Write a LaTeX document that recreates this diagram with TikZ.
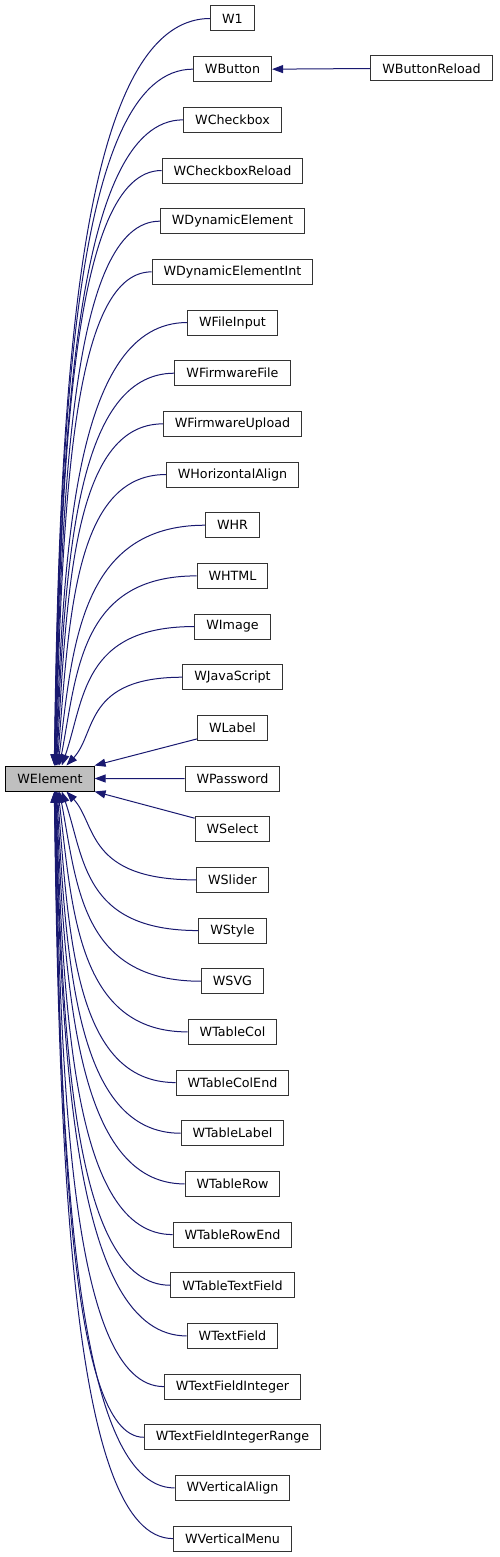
\documentclass[tikz,border=0pt]{standalone}
\usepackage{fontspec}
\setmainfont{DejaVu Sans}
\usetikzlibrary{arrows.meta,calc}
\definecolor{edgeblue}{RGB}{25,25,112}
\definecolor{basegray}{RGB}{191,191,191}

\begin{document}
\begin{tikzpicture}[x=1pt,y=1pt,font=\fontsize{12.7}{14}\selectfont,
  cls/.style={draw=black!80,line width=1pt,minimum height=25pt,inner xsep=11.5pt,inner ysep=0pt},
  base/.style={cls,draw=black,fill=basegray},
  inherit/.style={-{Triangle[length=11pt,width=8pt]},edgeblue,line width=1pt},
]
\useasboundingbox (0,0) rectangle (499,-1557);
\node[base] (welem) at (50,-778.5) {WElement};
% derived classes, one column
\foreach \name [count=\i] in {W1,WButton,WCheckbox,WCheckboxReload,WDynamicElement,
  WDynamicElementInt,WFileInput,WFirmwareFile,WFirmwareUpload,WHorizontalAlign,WHR,WHTML,
  WImage,WJavaScript,WLabel,WPassword,WSelect,WSlider,WStyle,WSVG,WTableCol,WTableColEnd,
  WTableLabel,WTableRow,WTableRowEnd,WTableTextField,WTextField,WTextFieldInteger,
  WTextFieldIntegerRange,WVerticalAlign,WVerticalMenu}
  \node[cls] (\name) at (232.5,{-18.5-50.67*(\i-1)}) {\name};
\node[cls] (breload) at (431.5,-68.5) {WButtonReload};
\draw[inherit] (breload.west) -- (WButton.east);
% curved edges into the top and bottom of the base class
\foreach \name [count=\i] in {W1,WButton,WCheckbox,WCheckboxReload,WDynamicElement,
  WDynamicElementInt,WFileInput,WFirmwareFile,WFirmwareUpload,WHorizontalAlign,WHR,WHTML,
  WImage,WJavaScript,WLabel,WPassword,WSelect,WSlider,WStyle,WSVG,WTableCol,WTableColEnd,
  WTableLabel,WTableRow,WTableRowEnd,WTableTextField,WTextField,WTextFieldInteger,
  WTextFieldIntegerRange,WVerticalAlign,WVerticalMenu}{
  \pgfmathtruncatemacro{\k}{\i-16}
  \pgfmathtruncatemacro{\ak}{abs(\k)}
  \ifnum\ak>1
    \pgfmathsetmacro{\dx}{47+28/\ak}
    \pgfmathsetmacro{\ang}{90-172/(\ak*\ak)}
    \pgfmathsetmacro{\s}{\k<0 ? 1 : -1}
    \ifnum\k<0 \def\anc{north west}\else\def\anc{south west}\fi
    \draw[inherit] let \p1=(\name.west), \p2=([xshift=\dx pt]welem.\anc) in
      (\p1) .. controls ({\x1-0.85*(\x1-\x2)},\y1)
      and ({\x2+0.5*abs(\y1-\y2)*cos(\ang)},{\y2+\s*0.5*abs(\y1-\y2)*sin(\ang)}) .. (\p2);
  \fi
}
\draw[inherit] ([yshift=2pt]WLabel.south west) -- (welem.north east);
\draw[inherit] (WPassword.west) -- (welem.east);
\draw[inherit] ([yshift=-2pt]WSelect.north west) -- (welem.south east);
\end{tikzpicture}
\end{document}
